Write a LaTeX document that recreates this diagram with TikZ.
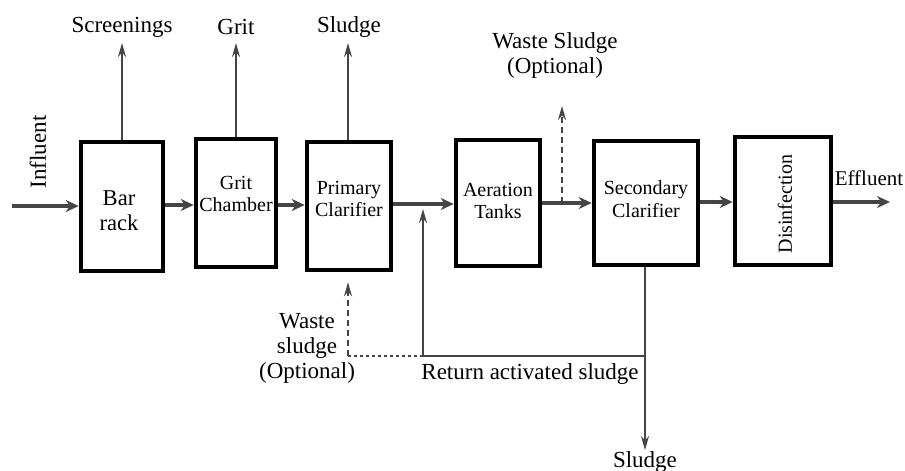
\documentclass[tikz,border=0pt]{standalone}
\usepackage{fontspec}
\setmainfont{Liberation Serif}
\usetikzlibrary{arrows.meta}
\definecolor{ln}{gray}{0.27}
\tikzset{
  box/.style={draw=black,line width=2.3pt,fill=white,inner sep=0pt},
  boxtext/.style={align=center,font=\fontsize{10pt}{11.2pt}\selectfont,inner sep=0pt},
  lab/.style={align=center,font=\fontsize{11.5pt}{12.5pt}\selectfont,inner sep=0pt},
  flow/.style={draw=ln,line width=1.6pt,-{Stealth[length=6.5pt,width=6pt]}},
  vflow/.style={draw=ln,line width=1pt,-{Stealth[length=7pt,width=4pt]}},
  plain/.style={draw=ln,line width=1pt},
  dashline/.style={draw=ln,line width=1pt,dash pattern=on 3pt off 2pt},
  dotline/.style={draw=ln,line width=1.3pt,dash pattern=on 1.3pt off 1.7pt}
}
\begin{document}
\begin{tikzpicture}[x=0.5pt,y=-0.5pt]
\useasboundingbox (0,0) rectangle (905,471);
% boxes
\node[box,minimum width=41pt,minimum height=64.5pt] (bar) at (122,206.5) {};
\node[box,minimum width=40pt,minimum height=64pt] (grit) at (236,203) {};
\node[box,minimum width=42pt,minimum height=64pt] (prim) at (349,206) {};
\node[box,minimum width=42pt,minimum height=63pt] (aer) at (498,203) {};
\node[box,minimum width=52pt,minimum height=62pt] (sec) at (646,203) {};
\node[box,minimum width=48pt,minimum height=64pt] (dis) at (783,201) {};
% box texts
\node[boxtext,font=\fontsize{11.3pt}{12.4pt}\selectfont] (bart) at (119,211) {Bar\\rack};
\node[boxtext] (gritt) at (236,194) {Grit\\Chamber};
\node[boxtext] (primt) at (349,199) {Primary\\Clarifier};
\node[boxtext] (aert) at (498,201) {Aeration\\Tanks};
\node[boxtext] (sect) at (646,199) {Secondary\\Clarifier};
\node[boxtext,rotate=90] (dist) at (785,204) {Disinfection};
% labels
\node[lab,rotate=90] (infl) at (38,152) {Influent};
\node[lab] (scr) at (122,27) {Screenings};
\node[lab] (gritl) at (236,27) {Grit};
\node[lab] (sl1) at (349,27) {Sludge};
\node[lab] (ws1) at (555,55) {Waste Sludge\\(Optional)};
\node[lab,font=\fontsize{10.5pt}{12pt}\selectfont] (effl) at (869,178) {Effluent};
\node[lab] (ws2) at (307,348) {Waste\\sludge\\(Optional)};
\node[lab] (ras) at (530,374) {Return activated sludge};
\node[lab] (sl2) at (645,462) {Sludge};
% coordinates
\coordinate (in0) at (12,206);
\coordinate (scrT) at (122,43);
\coordinate (gritT) at (236,43);
\coordinate (slT) at (348,43);
\coordinate (j1) at (423,204);
\coordinate (j1b) at (423,209);
\coordinate (j2) at (562,203);
\coordinate (wsT) at (562,106);
\coordinate (effT) at (890,202);
\coordinate (r1) at (645,356);
\coordinate (r2) at (423,356);
\coordinate (r3) at (348,356);
\coordinate (slB) at (645,450);
% main flow
\draw[flow] (in0) -- (in0 -| bar.west);
\draw[flow] (bar.east |- 0,205) -- (grit.west |- 0,205);
\draw[flow] (grit.east |- 0,205) -- (prim.west |- 0,205);
\draw[flow] (prim.east |- j1) -- (aer.west |- j1);
\draw[flow] (aer.east |- j2) -- (sec.west |- j2);
\draw[flow] (sec.east |- 0,202) -- (dis.west |- 0,202);
\draw[flow] (dis.east |- effT) -- (effT);
% side streams
\draw[vflow] (bar.north -| scrT) -- (scrT);
\draw[vflow] (grit.north -| gritT) -- (gritT);
\draw[vflow] (prim.north -| slT) -- (slT);
\draw[dashline,-{Stealth[length=7pt,width=4pt]}] (j2) -- (wsT);
% return
\draw[vflow] (sec.south -| r1) -- (slB);
\draw[plain] (r1) -- (r2);
\draw[vflow] (r2) -- (j1b);
\draw[dotline] (r2) -- (r3);
\draw[dashline,-{Stealth[length=7pt,width=4pt]}] (r3) -- ([yshift=-5pt]prim.south -| r3);
\end{tikzpicture}
\end{document}
